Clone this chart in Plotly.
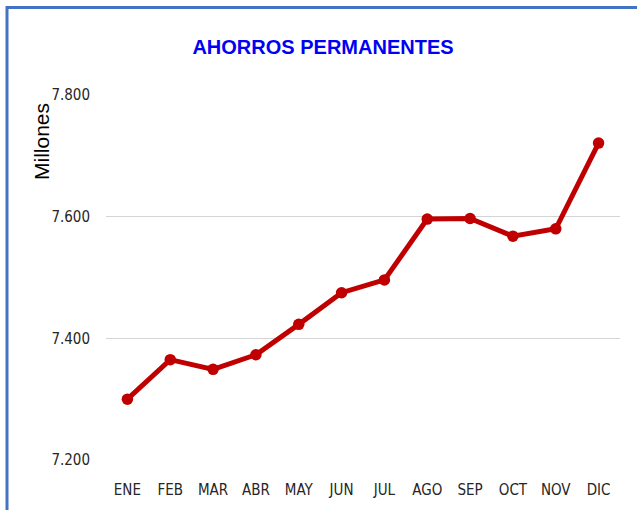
import plotly.graph_objects as go

months = ["ENE", "FEB", "MAR", "ABR", "MAY", "JUN", "JUL", "AGO", "SEP", "OCT", "NOV", "DIC"]
ahorros = [7300, 7365, 7349, 7373, 7423, 7475, 7496, 7596, 7597, 7568, 7580, 7721]
y_ticks = [7200, 7400, 7600, 7800]

W, H = 637, 510
L, R, T, B = 106, 17, 95, 50

fig = go.Figure()
fig.add_trace(go.Scatter(
    x=months, y=ahorros, mode="lines+markers",
    line=dict(color="#C00000", width=5),
    marker=dict(color="#C00000", size=11.5),
    hoverinfo="x+y",
))

narrow = "DejaVu Sans Condensed, Liberation Sans, Arial, sans-serif"

fig.update_layout(
    width=W, height=H,
    margin=dict(l=L, r=R, t=T, b=B),
    paper_bgcolor="white", plot_bgcolor="white",
    separators=",.",
    showlegend=False,
    title=dict(text="<b>AHORROS PERMANENTES</b>", x=323 / W, xanchor="center",
               y=1 - 47 / H, yanchor="middle",
               font=dict(family="Liberation Sans, Arial, sans-serif", size=20, color="#0000F5")),
    xaxis=dict(showgrid=False, showline=False, ticks="", zeroline=False,
               range=[-0.5, len(months) - 0.5],
               tickfont=dict(family=narrow, size=15, color="#262626"),
               ticklabelstandoff=19),
    yaxis=dict(range=[7200, 7800], tickvals=y_ticks, tickformat=",d",
               showgrid=True, gridcolor="#D4D4D4", gridwidth=1,
               showline=False, ticks="", zeroline=False,
               tickfont=dict(family=narrow, size=15, color="#262626"),
               ticklabelstandoff=15),
)

# y axis title, positioned as in the reference
fig.add_annotation(text="Millones", textangle=-90, xref="paper", yref="paper",
                   x=(41 - L) / (W - L - R), y=(H - B - 142) / (H - T - B),
                   xanchor="center", yanchor="middle", showarrow=False,
                   font=dict(family="Liberation Sans, Arial, sans-serif", size=21, color="black"))

# blue chart border (top and left visible; right and bottom cropped out)
pw, ph = W - L - R, H - T - B
def px(xp):
    return (xp - L) / pw
def py(yp):
    return (H - B - yp) / ph
fig.add_shape(type="rect", xref="paper", yref="paper",
              x0=px(7), x1=px(W + 20), y0=py(H + 20), y1=py(7.5),
              line=dict(color="#4472C4", width=3), layer="below")

fig.write_html("out.html", config={"displayModeBar": False},
               post_script="document.body.style.margin='0';document.body.style.overflow='hidden';")
